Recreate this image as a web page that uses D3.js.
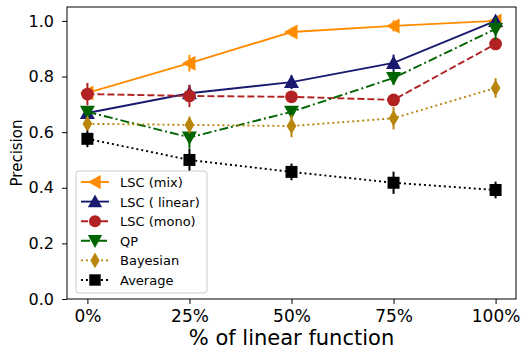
<!DOCTYPE html>
<html>
<head>
<meta charset="utf-8">
<script src="https://cdn.jsdelivr.net/npm/d3@7"></script>
<style>
  body { margin: 0; background: #fff; }
  svg text { font-family: "DejaVu Sans", sans-serif; }
</style>
</head>
<body>
<div id="app"></div>
<script>
const WIDTH = 524;
const HEIGHT = 350;

// x categories
const categories = ['0%', '25%', '50%', '75%', '100%'];
const yTicks = [0.0, 0.2, 0.4, 0.6, 0.8, 1.0];

// series values (mean) and error half-widths
const mixValues = [0.741, 0.848, 0.960, 0.982, 1.000];
const mixErr = [0.02, 0.03, 0.015, 0.02, 0.01];
const linearValues = [0.669, 0.740, 0.780, 0.849, 1.000];
const linearErr = [0.02, 0.03, 0.025, 0.03, 0.01];
const monoValues = [0.737, 0.730, 0.727, 0.716, 0.917];
const monoErr = [0.04, 0.04, 0.02, 0.015, 0.01];
const qpValues = [0.673, 0.581, 0.673, 0.795, 0.971];
const qpErr = [0.02, 0.04, 0.02, 0.025, 0.04];
const bayesValues = [0.630, 0.626, 0.622, 0.650, 0.759];
const bayesErr = [0.02, 0.03, 0.04, 0.04, 0.035];
const avgValues = [0.576, 0.500, 0.457, 0.418, 0.392];
const avgErr = [0.03, 0.04, 0.03, 0.04, 0.03];

const series = [
  { name: 'LSC (mix)', values: mixValues, err: mixErr, color: '#ff8c00', dash: null, marker: 'tri-left' },
  { name: 'LSC ( linear)', values: linearValues, err: linearErr, color: '#191970', dash: null, marker: 'tri-up' },
  { name: 'LSC (mono)', values: monoValues, err: monoErr, color: '#b22222', dash: '7,3', marker: 'circle' },
  { name: 'QP', values: qpValues, err: qpErr, color: '#006400', dash: '9,3,2,3', marker: 'tri-down' },
  { name: 'Bayesian', values: bayesValues, err: bayesErr, color: '#b8860b', dash: '2,3', marker: 'diamond' },
  { name: 'Average', values: avgValues, err: avgErr, color: '#000000', dash: '2,3', marker: 'square' }
];

const margin = { left: 67, right: 8, top: 7, bottom: 51 };
const LINE_WIDTH = 1.9;

const svg = d3.select('#app')
  .append('svg')
  .attr('width', WIDTH)
  .attr('height', HEIGHT);

const x = d3.scaleLinear()
  .domain([-0.2, categories.length - 1 + 0.2])
  .range([margin.left, WIDTH - margin.right]);

const y = d3.scaleLinear()
  .domain([0, 1.05])
  .range([HEIGHT - margin.bottom, margin.top]);

// axes
const xAxis = d3.axisBottom(x)
  .tickValues(d3.range(categories.length))
  .tickFormat(i => categories[i])
  .tickSizeOuter(0)
  .tickSize(5)
  .tickPadding(6);

const yAxis = d3.axisLeft(y)
  .tickValues(yTicks)
  .tickFormat(d3.format('.1f'))
  .tickSizeOuter(0)
  .tickSize(5)
  .tickPadding(8);

const gx = svg.append('g')
  .attr('transform', `translate(0,${HEIGHT - margin.bottom})`)
  .call(xAxis);
gx.select('.domain').remove();
gx.selectAll('text').style('font-size', '17px').attr('fill', '#000');

const gy = svg.append('g')
  .attr('transform', `translate(${margin.left},0)`)
  .call(yAxis);
gy.select('.domain').remove();
gy.selectAll('text').style('font-size', '16px').attr('fill', '#000');

svg.append('rect')
  .attr('x', margin.left)
  .attr('y', margin.top)
  .attr('width', WIDTH - margin.right - margin.left)
  .attr('height', HEIGHT - margin.bottom - margin.top)
  .attr('fill', 'none')
  .attr('stroke', '#000')
  .attr('stroke-width', 1);

svg.append('text')
  .attr('x', (margin.left + WIDTH - margin.right) / 2)
  .attr('y', 345)
  .attr('text-anchor', 'middle')
  .style('font-size', '21px')
  .text('% of linear function');

svg.append('text')
  .attr('transform', `translate(22,${(margin.top + HEIGHT - margin.bottom) / 2}) rotate(-90)`)
  .attr('text-anchor', 'middle')
  .style('font-size', '15px')
  .text('Precision');

// marker shapes
function markerPath(type, s) {
  switch (type) {
    case 'tri-left': return `M${-s},0L${s * 0.8},${-s}L${s * 0.8},${s}Z`;
    case 'tri-up': return `M0,${-s}L${s},${s * 0.8}L${-s},${s * 0.8}Z`;
    case 'tri-down': return `M0,${s}L${s},${-s * 0.8}L${-s},${-s * 0.8}Z`;
    case 'diamond': return `M0,${-s * 1.1}L${s * 0.65},0L0,${s * 1.1}L${-s * 0.65},0Z`;
    case 'square': return `M${-s * 0.8},${-s * 0.8}H${s * 0.8}V${s * 0.8}H${-s * 0.8}Z`;
    default: return d3.symbol(d3.symbolCircle, Math.PI * s * s * 0.72)();
  }
}

const MARKER_SIZE = 7.5;

const plot = svg.append('g');

series.forEach(s => {
  const g = plot.append('g').attr('class', 'series');
  const pts = s.values.map((v, i) => [x(i), y(v)]);

  g.selectAll('line.err')
    .data(s.values)
    .join('line')
    .attr('class', 'err')
    .attr('x1', (_, i) => x(i))
    .attr('x2', (_, i) => x(i))
    .attr('y1', (d, i) => y(d - s.err[i]))
    .attr('y2', (d, i) => y(d + s.err[i]))
    .attr('stroke', s.color)
    .attr('stroke-width', 2);

  g.append('path')
    .datum(pts)
    .attr('d', d3.line())
    .attr('fill', 'none')
    .attr('stroke', s.color)
    .attr('stroke-width', LINE_WIDTH)
    .attr('stroke-dasharray', s.dash);

  g.selectAll('path.marker')
    .data(pts)
    .join('path')
    .attr('class', 'marker')
    .attr('transform', d => `translate(${d[0]},${d[1]})`)
    .attr('d', markerPath(s.marker, MARKER_SIZE))
    .attr('fill', s.color);
});

// legend
const legend = svg.append('g').attr('transform', 'translate(76,171)');
legend.append('rect')
  .attr('width', 131)
  .attr('height', 122)
  .attr('rx', 3)
  .attr('fill', 'rgba(255,255,255,0.8)')
  .attr('stroke', '#ccc');

series.forEach((s, i) => {
  const ly = 11 + i * 19.6;
  const row = legend.append('g').attr('transform', `translate(0,${ly})`);
  row.append('line')
    .attr('x1', 5).attr('x2', 33)
    .attr('stroke', s.color)
    .attr('stroke-width', LINE_WIDTH)
    .attr('stroke-dasharray', s.dash);
  row.append('path')
    .attr('transform', 'translate(19,0)')
    .attr('d', markerPath(s.marker, MARKER_SIZE * 0.95))
    .attr('fill', s.color);
  row.append('text')
    .attr('x', 44)
    .attr('y', 5)
    .style('font-size', '13px')
    .text(s.name);
});
</script>
</body>
</html>
